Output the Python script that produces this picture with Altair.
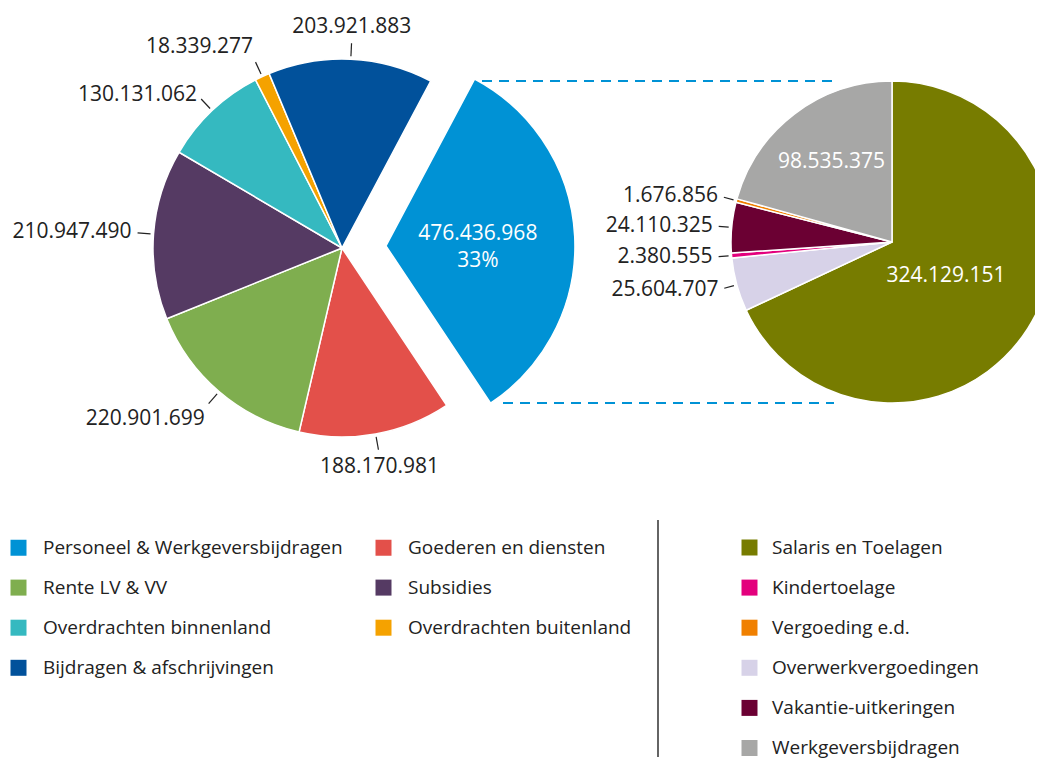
import math
import altair as alt
import pandas as pd

W, H = 1027, 752

# ---------------- data ----------------
left_cats = [
    "Personeel & Werkgeversbijdragen",
    "Goederen en diensten",
    "Rente LV & VV",
    "Subsidies",
    "Overdrachten binnenland",
    "Overdrachten buitenland",
    "Bijdragen & afschrijvingen",
]
left_vals = [476436968, 188170981, 220901699, 210947490, 130131062, 18339277, 203921883]
left_color_map = {
    "Personeel & Werkgeversbijdragen": "#0092D5",
    "Goederen en diensten": "#E3504A",
    "Rente LV & VV": "#7FAE4F",
    "Subsidies": "#553A63",
    "Overdrachten binnenland": "#35B9C0",
    "Overdrachten buitenland": "#F5A200",
    "Bijdragen & afschrijvingen": "#01519B",
}
# legend entries (filled column by column, 2 columns)
left_legend_order = [
    "Personeel & Werkgeversbijdragen",
    "Rente LV & VV",
    "Overdrachten binnenland",
    "Bijdragen & afschrijvingen",
    "Goederen en diensten",
    "Subsidies",
    "Overdrachten buitenland",
]

# right pie in drawing order (clockwise from 12 o'clock)
right_cats = [
    "Salaris en Toelagen",
    "Overwerkvergoedingen",
    "Kindertoelage",
    "Vakantie-uitkeringen",
    "Vergoeding e.d.",
    "Werkgeversbijdragen",
]
right_vals = [324129151, 25604707, 2380555, 24110325, 1676856, 98535375]
right_color_map = {
    "Salaris en Toelagen": "#777C00",
    "Kindertoelage": "#E3007D",
    "Vergoeding e.d.": "#F08000",
    "Overwerkvergoedingen": "#D7D2E8",
    "Vakantie-uitkeringen": "#6B0033",
    "Werkgeversbijdragen": "#A7A7A6",
}
right_legend_order = [
    "Salaris en Toelagen",
    "Kindertoelage",
    "Vergoeding e.d.",
    "Overwerkvergoedingen",
    "Vakantie-uitkeringen",
    "Werkgeversbijdragen",
]

NUM_FONT = "Open Sans"
TXT = "#222222"


def dutch(v):
    return f"{v:,}".replace(",", ".")


xs = alt.Scale(domain=[0, W], range=[0, W], nice=False, zero=False)
ys = alt.Scale(domain=[0, H], range=[0, H], nice=False, zero=False)


def pie(cats, vals, legend_order, color_map, cx, cy, radius, start_deg, legend,
        explode=0, r_in_big=90, r_in_small=90, lead0=3, lead1=15, r_lab=21,
        show_pct=False, in_dy=0):
    df = pd.DataFrame({
        "cat": cats,
        "val": vals,
        "order": list(range(len(cats))),
        "label": [dutch(v) for v in vals],
    })
    a0 = math.radians(start_deg)
    base = (
        alt.Chart(df)
        .transform_joinaggregate(total="sum(val)")
        .transform_window(cum="sum(val)", sort=[alt.SortField("order")], frame=[None, 0])
        .transform_calculate(f0="(datum.cum - datum.val) / datum.total")
        .transform_calculate(f1="datum.cum / datum.total")
        .transform_calculate(frac="datum.val / datum.total")
        .transform_calculate(ang=f"{a0} + PI * (datum.f0 + datum.f1)")
        .transform_calculate(sx="sin(datum.ang)")
        .transform_calculate(cs="cos(datum.ang)")
        .transform_calculate(off=f"datum.order == 0 ? {explode} : 0")
        .transform_calculate(px=f"{cx} + datum.off * datum.sx")
        .transform_calculate(py=f"{cy} - datum.off * datum.cs")
    )

    arcs = base.mark_arc(radius=radius, stroke="white", strokeWidth=1.5).encode(
        x=alt.X("px:Q", scale=xs, axis=None),
        y=alt.Y("py:Q", scale=ys, axis=None),
        theta=alt.Theta("f0:Q", stack=None,
                        scale=alt.Scale(domain=[0, 1], range=[a0, a0 + 2 * math.pi])),
        theta2=alt.Theta2("f1:Q"),
        color=alt.Color("cat:N",
                        scale=alt.Scale(domain=legend_order,
                                        range=[color_map[c] for c in legend_order]),
                        legend=legend),
    )

    outer = (
        base.transform_filter("datum.frac < 0.2")
        .transform_calculate(lx1=f"datum.px + {radius + lead0} * datum.sx")
        .transform_calculate(ly1=f"datum.py - {radius + lead0} * datum.cs")
        .transform_calculate(lx2=f"datum.px + {radius + lead1} * datum.sx")
        .transform_calculate(ly2=f"datum.py - {radius + lead1} * datum.cs")
        .transform_calculate(tx=f"datum.px + {radius + r_lab} * datum.sx")
        .transform_calculate(ty=f"datum.py - {radius + r_lab} * datum.cs")
        .transform_calculate(al="datum.sx < -0.35 ? 'right' : (datum.sx > 0.35 ? 'left' : 'center')")
        .transform_calculate(
            bl="datum.al == 'center' ? (datum.cs > 0 ? 'bottom' : 'top') : "
               "(datum.cs > 0.8 ? 'bottom' : (datum.cs < -0.6 ? 'top' : 'middle'))"
        )
    )

    leaders = outer.mark_rule(color=TXT, strokeWidth=1.2).encode(
        x=alt.X("lx1:Q", scale=xs, axis=None),
        y=alt.Y("ly1:Q", scale=ys, axis=None),
        x2="lx2:Q",
        y2="ly2:Q",
    )

    layers = [arcs, leaders]
    for a in ["left", "center", "right"]:
        for b in ["top", "middle", "bottom"]:
            layers.append(
                outer.transform_filter(f"datum.al == '{a}' && datum.bl == '{b}'")
                .mark_text(align=a, baseline=b, font=NUM_FONT, fontSize=21, color=TXT)
                .encode(
                    x=alt.X("tx:Q", scale=xs, axis=None),
                    y=alt.Y("ty:Q", scale=ys, axis=None),
                    text="label:N",
                )
            )

    if show_pct:
        txt_expr = "datum.label + '\\n' + format(datum.frac, '.0%')"
    else:
        txt_expr = "datum.label"
    inner = (
        base.transform_filter("datum.frac >= 0.2")
        .transform_calculate(rin=f"datum.frac > 0.5 ? {r_in_big} : {r_in_small}")
        .transform_calculate(ix="datum.px + datum.rin * datum.sx")
        .transform_calculate(iy="datum.py - datum.rin * datum.cs")
        .transform_calculate(txt=txt_expr)
        .mark_text(align="center", baseline="middle", font=NUM_FONT, fontSize=21,
                   color="white", lineBreak="\n", lineHeight=27, dy=in_dy)
        .encode(
            x=alt.X("ix:Q", scale=xs, axis=None),
            y=alt.Y("iy:Q", scale=ys, axis=None),
            text="txt:N",
        )
    )
    layers.append(inner)
    return alt.layer(*layers).resolve_scale(theta="independent")


leg_common = dict(
    title=None, orient="none", symbolType="square", symbolSize=256,
    symbolStrokeWidth=0, labelFont="Open Sans", labelFontSize=19, labelColor=TXT,
    labelLimit=400, padding=0, rowPadding=20.1,
)

left_legend = alt.Legend(legendX=1, legendY=530, columns=2, labelOffset=15,
                         columnPadding=31, direction="vertical", **leg_common)
right_legend = alt.Legend(legendX=732, legendY=530, columns=1, labelOffset=13, **leg_common)

left_pie = pie(left_cats, left_vals, left_legend_order, left_color_map, cx=334, cy=240,
               radius=189, start_deg=28, legend=left_legend, explode=44,
               r_in_big=92, r_in_small=92, lead0=3, lead1=16, r_lab=22,
               show_pct=True, in_dy=-7)
right_pie = pie(right_cats, right_vals, right_legend_order, right_color_map, cx=884, cy=234,
                radius=161, start_deg=0, legend=right_legend, explode=0,
                r_in_big=64, r_in_small=100, lead0=3, lead1=13, r_lab=19)

one = pd.DataFrame({"k": [0]})
dash_top = alt.Chart(one).mark_rule(color="#0092D5", strokeWidth=2, strokeDash=[10, 7]).encode(
    x=alt.value(474), x2=alt.value(826), y=alt.value(73))
dash_bot = alt.Chart(one).mark_rule(color="#0092D5", strokeWidth=2, strokeDash=[10, 7]).encode(
    x=alt.value(495), x2=alt.value(826), y=alt.value(395))
divider = alt.Chart(one).mark_rule(color="#111111", strokeWidth=1.3).encode(
    x=alt.value(650), y=alt.value(512), y2=alt.value(749))

chart = (
    alt.layer(left_pie, right_pie, dash_top, dash_bot, divider)
    .resolve_scale(color="independent", theta="independent")
    .properties(width=W, height=H, padding=0, background="white",
                autosize=alt.AutoSizeParams(type="none"))
    .configure_view(stroke=None)
)

chart.save("out.html", embed_options={"renderer": "svg", "actions": False})
